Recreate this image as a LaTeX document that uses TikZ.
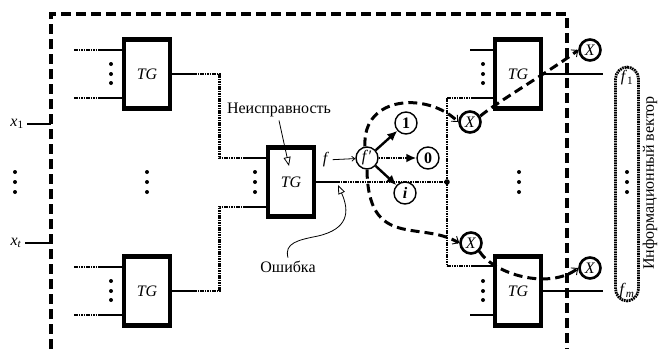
\documentclass[tikz,border=0pt]{standalone}
\usepackage{fontspec}
\setmainfont{Liberation Serif}
\usetikzlibrary{arrows.meta, positioning, shapes.misc}

\begin{document}
\begin{tikzpicture}[
    x=1pt, y=-1pt,
    every node/.style={font=\fontsize{16}{18}\selectfont},
    tg/.style={rectangle, draw, line width=4.4pt, minimum width=46pt, minimum height=69pt, inner sep=0pt},
    val/.style={circle, draw, line width=1.4pt, minimum size=22pt, inner sep=0pt},
    xnode/.style={circle, draw, line width=2.6pt, minimum size=21pt, inner sep=0pt},
    vec/.style={rectangle, rounded corners=12pt, draw, line width=2.8pt, dash pattern=on 1.6pt off 0.8pt, minimum width=23pt, minimum height=234pt},
    wire/.style={line width=1.1pt},
    bus/.style={line width=2.8pt, dash pattern=on 1.6pt off 0.8pt},
    frame/.style={line width=3.4pt, dash pattern=on 10pt off 5pt},
    push/.style={line width=2.4pt, -{Latex[length=10pt, width=9pt]}},
    trace/.style={line width=3pt, dash pattern=on 9pt off 5pt, -{Straight Barb[line width=0.9pt, length=5pt, width=9pt]}},
    note/.style={line width=0.8pt, -{Triangle[open, length=9pt, width=7pt]}}
]
\useasboundingbox (0,0) rectangle (659,349);

% --- border of the circuit ---
\draw[frame] (51,349) -- (51,14) -- (567,14) -- (567,349);

% --- primary inputs ---
\node (xa) at (17,124) {\textit{x}\textsubscript{1}};
\node (xb) at (16,243) {\textit{x}\textsubscript{\textit{t}}};
\coordinate (ea) at (51,124);
\coordinate (eb) at (51,243);
\draw[wire] (xa) -- (ea);
\draw[wire] (xb) -- (eb);

% --- gates ---
\node[tg] (g1) at (147,74) {\textit{TG}};
\node[tg] (g2) at (147,291) {\textit{TG}};
\node[tg] (g0) at (291,182) {\textit{TG}};
\node[tg] (g3) at (518,74) {\textit{TG}};
\node[tg] (g4) at (518,291) {\textit{TG}};

% --- inputs of the left gates ---
\coordinate (s1) at (74,50);
\coordinate (s2) at (74,98);
\coordinate (s3) at (74,267);
\coordinate (s4) at (74,315);
\draw[bus] (s1) -- ++(26,0) coordinate (t1);
\draw[bus] (s2) -- ++(26,0) coordinate (t2);
\draw[bus] (s3) -- ++(26,0) coordinate (t3);
\draw[bus] (s4) -- ++(26,0) coordinate (t4);
\draw[wire] (t1) -- (t1 -| g1.west);
\draw[wire] (t2) -- (t2 -| g1.west);
\draw[wire] (t3) -- (t3 -| g2.west);
\draw[wire] (t4) -- (t4 -| g2.west);

% --- left gates to the faulty gate ---
\coordinate (m1) at (245,158);
\coordinate (m2) at (245,207);
\draw[wire] (g1.east) -- ++(23,0) coordinate (u1);
\draw[wire] (g2.east) -- ++(23,0) coordinate (u2);
\draw[bus] (u1) -- ++(24,0) |- (m1);
\draw[bus] (u2) -- ++(24,0) |- (m2);
\draw[wire] (m1) -- (m1 -| g0.west);
\draw[wire] (m2) -- (m2 -| g0.west);

% --- fanout to the right gates ---
\coordinate (jn) at (447,182);
\coordinate (jt) at (447,98);
\coordinate (jb) at (447,266);
\draw[wire] (g0.east) -- ++(22,0) coordinate (u0);
\draw[bus] (u0) -- (jn);
\draw[bus] (jt) -- (jb);
\fill (jn) circle (2.8pt);
\draw[bus] (jt) -- ++(25,0) coordinate (v1);
\draw[bus] (jb) -- ++(25,0) coordinate (v2);
\draw[wire] (v1) -- (v1 -| g3.west);
\draw[wire] (v2) -- (v2 -| g4.west);
\coordinate (w1) at (470,50);
\coordinate (w2) at (470,315);
\draw[wire] (w1) -- (w1 -| g3.west);
\draw[wire] (w2) -- (w2 -| g4.west);
\coordinate (o1) at (603,74);
\coordinate (o2) at (603,291);
\draw[wire] (g3.east) -- (o1);
\draw[wire] (g4.east) -- (o2);

% --- vertical dots ---
\foreach \x in {15,147,255,519,627}
  \foreach \y in {172,182,192} \fill (\x,\y) circle (2pt);
\foreach \x/\y in {111/64,483/64,111/281,483/281}
  \foreach \d in {0,10,19} \fill ({\x},{\y+\d}) circle (2pt);

% --- fault values ---
\node (flab) at (326,160) {\textit{f}};
\node[val] (fp) at (367,158) {\textit{f}\kern0.5pt′};
\node[val] (c1) at (406,123) {\textbf{1}};
\node[val] (c0) at (428,158) {\textbf{0}};
\node[val] (ci) at (405,193) {\textbf{\textit{i}}};
\draw[line width=0.8pt, -{Straight Barb[length=3pt, width=5pt]}] (flab) -- (fp);
\draw[push] (fp) -- (c1);
\draw[push, dash pattern=on 1.6pt off 0.8pt] (fp) -- (c0);
\draw[push] (fp) -- (ci);

% --- observation points ---
\node[xnode] (xo1) at (470,122) {\textit{X}};
\node[xnode] (xo2) at (590,50) {\textit{X}};
\node[xnode] (xo3) at (471,243) {\textit{X}};
\node[xnode] (xo4) at (590,268) {\textit{X}};
\draw[trace] (fp.100) .. controls (362,95) and (428,92) .. (xo1.west);
\draw[trace] (xo1.30) .. controls (500,100) and (555,68) .. (xo2.west);
\draw[trace] (fp.south) .. controls (368,250) and (420,220) .. (xo3.west);
\draw[trace] (xo3.-45) .. controls (495,275) and (550,290) .. (xo4.west);

% --- information vector ---
\node[vec] (vv) at (627,184) {};
\node (vf1) at (627,78) {\textit{f}\textsubscript{1}};
\node (vfm) at (627,291) {\textit{f}\textsubscript{\textit{m}}};
\node[rotate=90, inner sep=0pt, font=\fontsize{16}{18}\selectfont] (vlab) at (650,183) {Информационный вектор};

% --- notes ---
\node (fault) at (279,110) {Неисправность};
\node (err) at (288,267) {Ошибка};
\draw[note] (fault.south) -- (289,166);
\draw[note] (err.north) .. controls (284,243) and (298,240) .. (318,236) .. controls (348,229) and (350,212) .. (338,185);
\end{tikzpicture}
\end{document}
